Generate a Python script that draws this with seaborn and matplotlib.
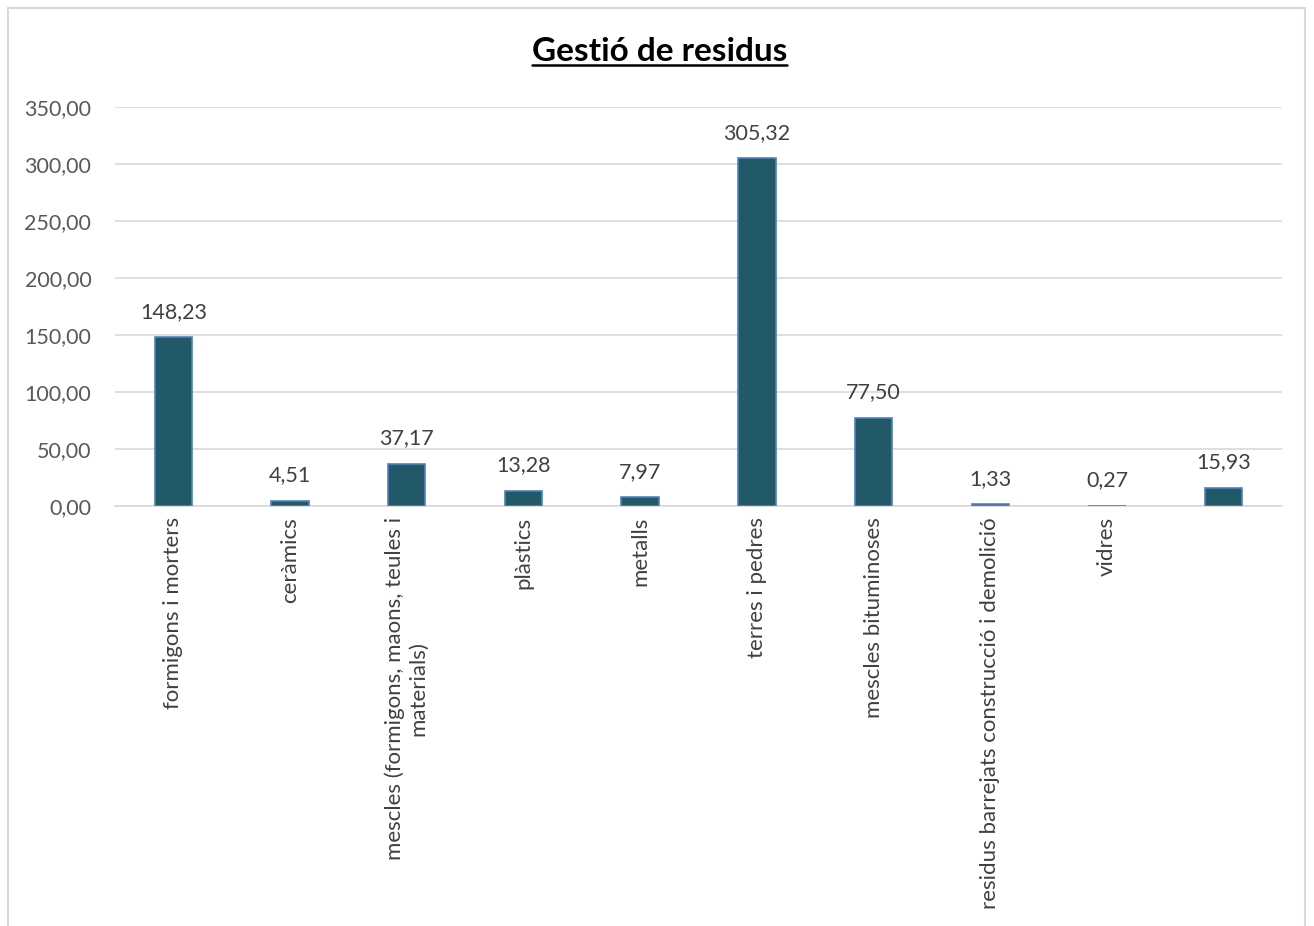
import numpy as np
import pandas as pd
import matplotlib.pyplot as plt
import seaborn as sbn
from matplotlib.patches import Rectangle

categories = ["formigons i morters", "ceràmics",
              "mescles (formigons, maons, teules i\nmaterials)",
              "plàstics", "metalls", "terres i pedres", "mescles bituminoses",
              "residus barrejats construcció i demolició", "vidres", ""]
values = [148.23, 4.51, 37.17, 13.28, 7.97, 305.32, 77.50, 1.33, 0.27, 15.93]
yticks = [0, 50, 100, 150, 200, 250, 300, 350]

df = pd.DataFrame({"cat": categories, "val": values})

sbn.set_style("white")
plt.rcParams['font.family'] = ['Lato', 'DejaVu Sans']

fig = plt.figure(figsize=(13.14, 9.26), dpi=100)
ax = fig.add_axes([0.0875, 0.4536, 0.8882, 0.4308])

sbn.barplot(data=df, x="cat", y="val", color="#215968", width=0.32,
            edgecolor="#4f81bd", linewidth=1.2, saturation=1, ax=ax, zorder=3)

ax.set_ylim(0, 350)
ax.set_xlim(-0.5, len(categories) - 0.5)
ax.set_yticks(yticks)
ax.set_yticklabels([f"{v:.2f}".replace(".", ",") for v in yticks], fontsize=15.5, color="#595959")
ax.set_xticks(range(len(categories)))
ax.set_xticklabels(categories, rotation=90, fontsize=16, color="#404040",
                   va="top", ha="center", multialignment="center")
ax.tick_params(axis="both", length=0, pad=8)
ax.tick_params(axis="y", pad=17)
ax.set_xlabel("")
ax.set_ylabel("")
ax.grid(axis="y", color="#d9d9d9", linewidth=1.2, zorder=0)
for s in ["top", "right", "left"]:
    ax.spines[s].set_visible(False)
ax.spines["bottom"].set_color("#d9d9d9")
ax.spines["bottom"].set_linewidth(1.2)

for i, v in enumerate(values):
    ax.annotate(f"{v:.2f}".replace(".", ","), (i, v), xytext=(0, 11),
                textcoords="offset points", ha="center", va="bottom",
                fontsize=15.5, color="#404040")

fig.text(0.502, 0.944, "Gestió de residus", ha="center", va="center",
         fontsize=24, fontweight="bold", color="#000000")
# underline
title_t = fig.texts[-1]
fig.canvas.draw()
bb = title_t.get_window_extent().transformed(fig.transFigure.inverted())
fig.add_artist(plt.Line2D([bb.x0, bb.x1], [bb.y0 + 0.002, bb.y0 + 0.002],
                          transform=fig.transFigure, color="black", linewidth=1.8))

# chart frame (bottom edge falls outside the picture, as in the reference)
fig.add_artist(Rectangle((8 / 1314, -0.05), (1305 - 8) / 1314, 1.05 - 8 / 926,
                         transform=fig.transFigure, fill=False,
                         edgecolor="#d9d9d9", linewidth=1.5, clip_on=False))

fig.savefig("out.png", dpi=100)
